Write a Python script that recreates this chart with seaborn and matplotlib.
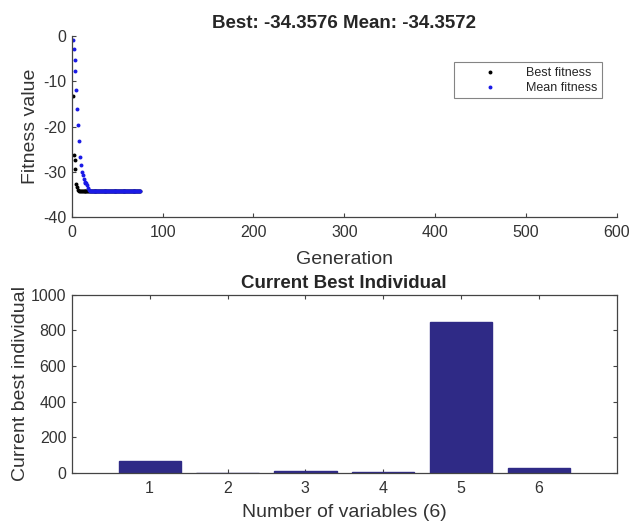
import matplotlib
matplotlib.use("Agg")
import matplotlib.pyplot as plt
import seaborn as sns

# GA progress: one point per generation
generation = list(range(1, 76))
best_fitness = [
    -13.3, -26.3, -27.4, -29.5, -32.8, -33.4, -34.0, -34.2, -34.2, -34.25,
    -34.25, -34.3, -34.3, -34.3, -34.3, -34.3, -34.32, -34.32, -34.33, -34.33,
    -34.34, -34.34, -34.34, -34.35, -34.35, -34.35, -34.35, -34.35, -34.35, -34.35,
    -34.355, -34.355, -34.355, -34.355, -34.355, -34.355, -34.355, -34.355, -34.356, -34.356,
    -34.356, -34.356, -34.356, -34.356, -34.356, -34.356, -34.357, -34.357, -34.357, -34.357,
    -34.357, -34.357, -34.357, -34.357, -34.357, -34.357, -34.357, -34.357, -34.357, -34.357,
    -34.3576, -34.3576, -34.3576, -34.3576, -34.3576, -34.3576, -34.3576, -34.3576, -34.3576, -34.3576,
    -34.3576, -34.3576, -34.3576, -34.3576, -34.3576,
]
mean_fitness = [
    -0.8, -2.8, -5.2, -7.8, -12.0, -16.2, -19.6, -23.2, -26.8, -28.5,
    -30.0, -30.8, -31.6, -32.2, -32.6, -32.4, -33.0, -33.6, -34.0, -34.2,
    -34.25, -34.3, -34.3, -34.2, -34.3, -34.32, -34.3, -34.33, -34.33, -34.34,
    -34.3, -34.34, -34.35, -34.35, -34.34, -34.35, -34.35, -34.35, -34.35, -34.35,
    -34.355, -34.355, -34.355, -34.355, -34.355, -34.355, -34.356, -34.356, -34.356, -34.356,
    -34.356, -34.356, -34.356, -34.356, -34.357, -34.357, -34.357, -34.357, -34.357, -34.357,
    -34.357, -34.357, -34.357, -34.357, -34.357, -34.357, -34.357, -34.357, -34.357, -34.357,
    -34.3572, -34.3572, -34.3572, -34.3572, -34.3572,
]

variables = [1, 2, 3, 4, 5, 6]
best_individual = [70, 2, 10, 3, 850, 30]

sns.set_style("ticks")
plt.rcParams['font.family'] = ['Liberation Sans', 'DejaVu Sans']
plt.rcParams.update({
    'axes.unicode_minus': False,
    'xtick.direction': 'in', 'ytick.direction': 'in',
    'xtick.major.size': 3, 'ytick.major.size': 3,
    'xtick.major.pad': 6, 'ytick.major.pad': 4,
    'xtick.color': '#444444', 'ytick.color': '#444444',
    'xtick.labelcolor': '#333333', 'ytick.labelcolor': '#333333',
    'axes.edgecolor': '#444444', 'axes.linewidth': 0.9,
    'xtick.labelsize': 11.5, 'ytick.labelsize': 11.5,
})

fig = plt.figure(figsize=(6.3, 5.24), dpi=100)
ax1 = fig.add_axes([0.114, 0.586, 0.865, 0.345])
ax2 = fig.add_axes([0.114, 0.0973, 0.865, 0.340])

# top: fitness per generation
sns.scatterplot(x=generation, y=best_fitness, ax=ax1, color='black',
                s=8, linewidth=0, label='Best fitness')
sns.scatterplot(x=generation, y=mean_fitness, ax=ax1, color='#1a1ae6',
                s=8, linewidth=0, label='Mean fitness')
ax1.set_xlim(0, 600)
ax1.set_ylim(-40, 0)
ax1.set_xticks(range(0, 601, 100))
ax1.set_yticks(range(-40, 1, 10))
sns.despine(ax=ax1)
ax1.set_title("Best: -34.3576 Mean: -34.3572", fontweight='bold', fontsize=13.5, pad=6)
ax1.set_xlabel("Generation", fontsize=14, color='#333333', labelpad=7.5)
ax1.set_ylabel("Fitness value", fontsize=14, color='#333333', labelpad=3)
leg = ax1.legend(loc='upper right', bbox_to_anchor=(0.972, 0.856), frameon=True,
                 fancybox=False, edgecolor='#666666', fontsize=9,
                 handlelength=5, handletextpad=0.4, labelspacing=0.25,
                 borderpad=0.35, borderaxespad=0)
leg.get_frame().set_linewidth(0.8)

# bottom: current best individual
sns.barplot(x=variables, y=best_individual, ax=ax2, native_scale=True,
            color='#2f2a86', width=0.8, saturation=1, edgecolor='#2f2a86')
ax2.set_xlim(0, 7)
ax2.set_ylim(0, 1000)
ax2.set_xticks(variables)
ax2.set_yticks(range(0, 1001, 200))
ax2.tick_params(top=True, right=True)
ax2.set_title("Current Best Individual", fontweight='bold', fontsize=13.5, pad=5)
ax2.set_xlabel("Number of variables (6)", fontsize=14, color='#333333', labelpad=5.5)
ax2.set_ylabel("Current best individual", fontsize=14, color='#333333', labelpad=1)

fig.savefig("out.png", dpi=100)
